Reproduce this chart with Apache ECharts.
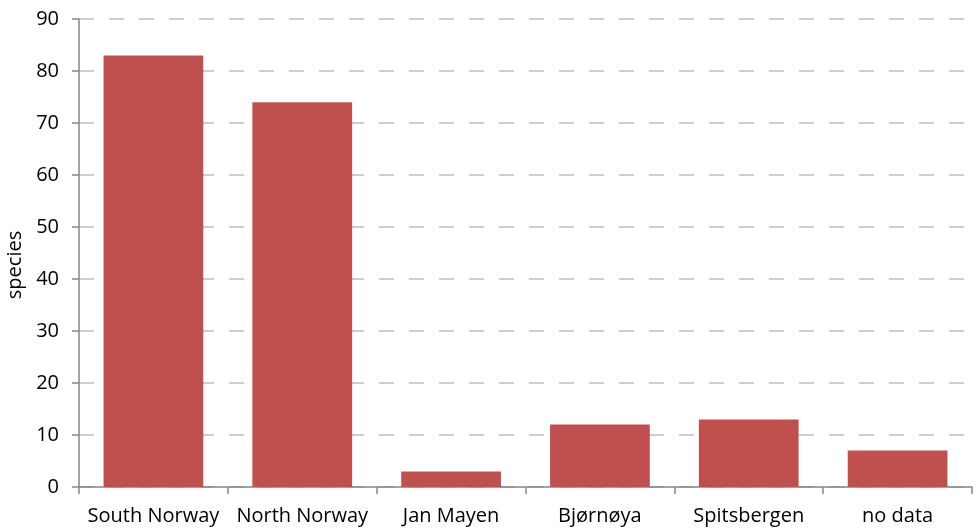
<!DOCTYPE html>
<html lang="en">
  <head>
    <meta charset="UTF-8" />
    <title>species</title>
    <script src="https://cdn.jsdelivr.net/npm/echarts/dist/echarts.min.js"></script>
    <style>
      body {
        margin: 0;
        background: #fff;
      }
      #chart {
        width: 976px;
        height: 529px;
      }
    </style>
  </head>
  <body>
    <div id="chart"></div>
    <script>
      var categories = [
        "South Norway",
        "North Norway",
        "Jan Mayen",
        "Bjørnøya",
        "Spitsbergen",
        "no data",
      ];
      var speciesCounts = [83, 74, 3, 12, 13, 7];

      var chart = echarts.init(document.getElementById("chart"));
      var font = "'Open Sans', 'Liberation Sans', sans-serif";

      var option = {
        animation: false,
        grid: { left: 79, right: 4, top: 19, bottom: 42, outerBoundsMode: "none", containLabel: false },
        xAxis: {
          type: "category",
          data: categories,
          axisLine: { lineStyle: { color: "#868686", width: 1.5 } },
          axisTick: { show: true, length: 7, lineStyle: { color: "#868686", width: 1.5 } },
          axisLabel: { color: "#000", fontSize: 20, fontFamily: font, margin: 19, interval: 0 },
        },
        yAxis: {
          type: "value",
          min: 0,
          max: 90,
          interval: 10,
          name: "species",
          nameLocation: "middle",
          nameGap: 54,
          nameTextStyle: { color: "#000", fontSize: 20, fontFamily: font, padding: [0, 24, 0, 0] },
          axisLine: { show: true, lineStyle: { color: "#868686", width: 1.5 } },
          axisTick: { show: true, length: 7, lineStyle: { color: "#868686", width: 1.5 } },
          axisLabel: { color: "#000", fontSize: 20, fontFamily: font, margin: 20 },
          splitLine: {
            lineStyle: { color: "#bfbfbf", width: 1.5, type: [15, 15] },
          },
        },
        series: [
          {
            type: "bar",
            data: speciesCounts,
            barCategoryGap: "33%",
            itemStyle: { color: "#c0504d" },
          },
        ],
      };

      chart.setOption(option);
    </script>
  </body>
</html>
